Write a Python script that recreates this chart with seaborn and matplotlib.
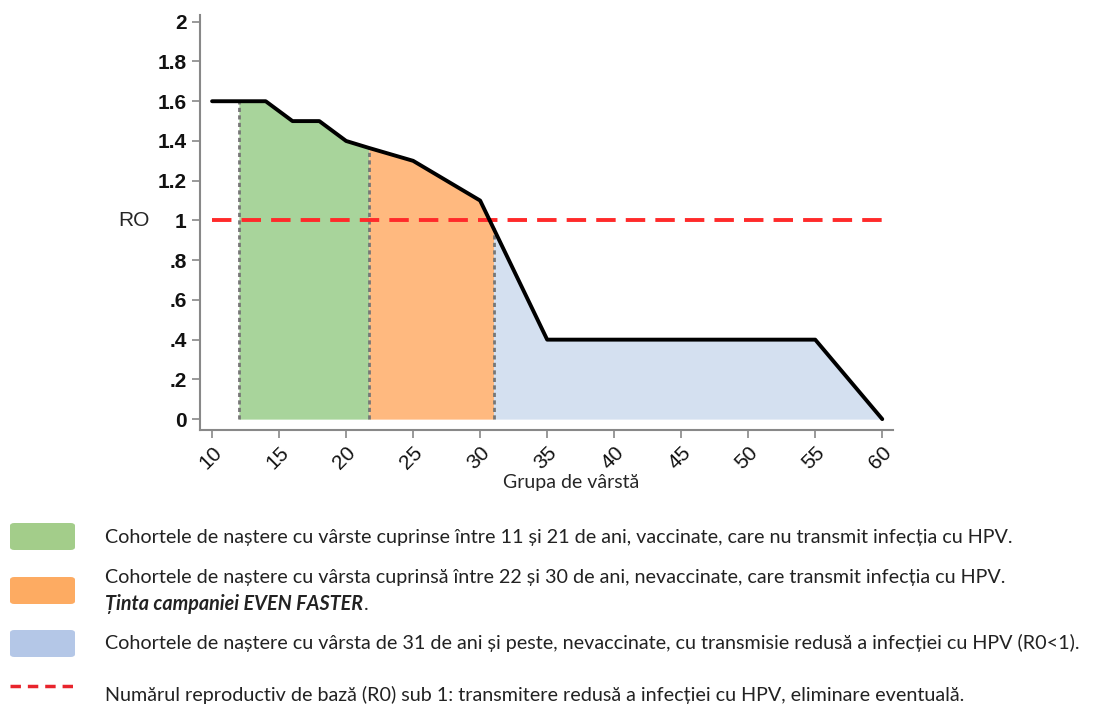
import numpy as np
import matplotlib
matplotlib.use("Agg")
import matplotlib.pyplot as plt
import seaborn as sns
from matplotlib.patches import FancyBboxPatch
from matplotlib.lines import Line2D

sns.set_theme(style="ticks")
plt.rcParams["font.family"] = ["Lato", "DejaVu Sans"]

# R0 by age
ages = [10, 14, 16, 18, 20, 21.7, 25, 30, 35, 55, 60]
r0 = [1.6, 1.6, 1.5, 1.5, 1.4, 1.365, 1.3, 1.1, 0.4, 0.4, 0.0]

# Cohort boundaries (age) for the shaded bands
band_edges = [12, 21.7, 31, 60]
band_colours = ["#a8d49b", "#ffb97f", "#d4e0f0"]
legend_colours = ["#a3cd8a", "#fdab62", "#b4c7e7"]

x_ticks = [10, 15, 20, 25, 30, 35, 40, 45, 50, 55, 60]
y_ticks = [0, 0.2, 0.4, 0.6, 0.8, 1, 1.2, 1.4, 1.6, 1.8, 2]
y_tick_labels = ["0", ".2", ".4", ".6", ".8", "1", "1.2", "1.4", "1.6", "1.8", "2"]

legend_texts = [
    "Cohortele de naștere cu vârste cuprinse între 11 și 21 de ani, vaccinate, care nu transmit infecția cu HPV.",
    "Cohortele de naștere cu vârsta cuprinsă între 22 și 30 de ani, nevaccinate, care transmit infecția cu HPV.",
    "Cohortele de naștere cu vârsta de 31 de ani și peste, nevaccinate, cu transmisie redusă a infecției cu HPV (R0<1).",
]
target_text = "Ținta campaniei EVEN FASTER"
r0_line_text = "Numărul reproductiv de bază (R0) sub 1: transmitere redusă a infecției cu HPV, eliminare eventuală."

ARIAL = ["Liberation Sans", "DejaVu Sans"]

fig = plt.figure(figsize=(10.93, 7.05), dpi=100)
ax = fig.add_axes([0.183, 0.390, 0.634, 0.589])

# shaded bands under the curve
for i in range(3):
    lo, hi = band_edges[i], band_edges[i + 1]
    xs = np.array([lo] + [a for a in ages if lo < a < hi] + [hi])
    ys = np.interp(xs, ages, r0)
    ax.fill_between(xs, 0, ys, color=band_colours[i], linewidth=0, zorder=1)
# dotted separators between cohorts
for edge in band_edges[:3]:
    ax.plot([edge, edge], [0, np.interp(edge, ages, r0)], color="#777777",
            linestyle=(0, (1.5, 1.2)), linewidth=2, zorder=2)

sns.lineplot(x=ages, y=r0, color="black", linewidth=2.8, ax=ax, zorder=4)
ax.plot([10, 60], [1, 1], color="#ff2a2a", linestyle=(0, (5, 2.6)),
        linewidth=2.8, zorder=3)

ax.set_xlim(9.1, 60.8)
ax.set_ylim(-0.055, 2.035)
ax.set_xticks(x_ticks)
ax.set_xticklabels([str(t) for t in x_ticks], rotation=45, ha="right",
                   rotation_mode="anchor", fontsize=15, family=ARIAL)
ax.set_yticks(y_ticks)
ax.set_yticklabels(y_tick_labels, fontsize=15, fontweight="bold", family=ARIAL)
for s in ["top", "right"]:
    ax.spines[s].set_visible(False)
for s in ["left", "bottom"]:
    ax.spines[s].set_color("#888888")
    ax.spines[s].set_linewidth(1.5)
ax.tick_params(axis="both", colors="#888888", length=6, width=1.2,
               labelcolor="#111111")
ax.set_xlabel("Grupa de vârstă", fontsize=14, labelpad=2)
ax.xaxis.set_label_coords(0.535, -0.105)
ax.set_ylabel("")
ax.text(-0.118, (1 + 0.055) / 2.09, "RO", transform=ax.transAxes, fontsize=15,
        va="center", ha="left", family=ARIAL)

# legend block below the chart
patch_y = [523, 577, 630]
text_y = [538, 578, 643]
for i in range(3):
    top = 1 - patch_y[i] / 705
    fig.patches.append(FancyBboxPatch(
        (10 / 1093, top - 27 / 705), 65 / 1093, 27 / 705,
        boxstyle="round,pad=0,rounding_size=0.004",
        transform=fig.transFigure, facecolor=legend_colours[i],
        edgecolor="none"))
    fig.text(105 / 1093, 1 - text_y[i] / 705, legend_texts[i],
             fontsize=14.2, va="center", ha="left", color="#222222")
target = fig.text(105 / 1093, 1 - 604 / 705, target_text, fontsize=14.2,
                  fontweight="bold", style="italic", va="center", ha="left",
                  color="#222222")
fig.canvas.draw()
bb = target.get_window_extent().transformed(fig.transFigure.inverted())
fig.text(bb.x1 + 0.001, 1 - 604 / 705, ".", fontsize=14.2,
         va="center", ha="left", color="#222222")
fig.lines.append(Line2D([10 / 1093, 75 / 1093], [1 - 686 / 705] * 2,
                        transform=fig.transFigure, color="#e8242c",
                        linestyle=(0, (3, 2)), linewidth=2.5))
fig.text(105 / 1093, 1 - 695 / 705, r0_line_text, fontsize=14.2,
         va="center", ha="left", color="#222222")

fig.savefig("out.png", dpi=100)
